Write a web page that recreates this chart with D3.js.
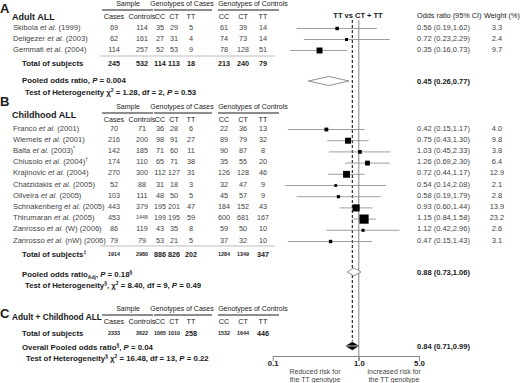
<!DOCTYPE html>
<html>
<head>
<meta charset="utf-8">
<script src="https://cdn.jsdelivr.net/npm/d3@7"></script>
<style>
  body { margin: 0; background: #fff; }
  svg { font-family: "Liberation Sans", Arial, sans-serif; }
</style>
</head>
<body>
<svg width="520" height="383"></svg>
<script>
// ---- data ----
var colKeys = ["Cases", "Controls", "CC", "CT", "TT", "CC", "CT", "TT"];

var namesA = ["Skibola et al. (1999)", "Deligezer et al. (2003)", "Gemmati et al. (2004)"];
var marksA = ["", "", ""];
var tableA = [
  [69, 114, 35, 29, 5, 61, 39, 14],
  [62, 161, 27, 31, 4, 74, 73, 14],
  [114, 257, 52, 53, 9, 78, 128, 51]
];
var totalA = [245, 532, 114, 113, 18, 213, 240, 79];
var orA = [0.56, 0.72, 0.35];
var loA = [0.19, 0.23, 0.16];
var hiA = [1.62, 2.29, 0.73];
var weightA = [3.3, 2.4, 9.7];
var pooledA = [0.45, 0.26, 0.77];

var namesB = ["Franco et al. (2001)", "Wiemels et al. (2001)", "Balta et al. (2003)",
  "Chiusolo et al. (2004)", "Krajinovic et al. (2004)", "Chatzidakis et al. (2005)",
  "Oliveira et al. (2005)", "Schnakenberg et al. (2005)", "Thirumaran et al. (2005)",
  "Zanrosso et al. (W) (2006)", "Zanrosso et al. (nW) (2006)"];
var marksB = ["", "", "*", "\u2020", "", "", "", "", "", "", ""];
var tableB = [
  [70, 71, 36, 28, 6, 22, 36, 13],
  [216, 200, 98, 91, 27, 89, 79, 32],
  [142, 185, 71, 60, 11, 90, 87, 8],
  [174, 110, 65, 71, 38, 35, 55, 20],
  [270, 300, 112, 127, 31, 126, 128, 46],
  [52, 88, 31, 18, 3, 32, 47, 9],
  [103, 111, 48, 50, 5, 45, 57, 9],
  [443, 379, 195, 201, 47, 184, 152, 43],
  [453, 1448, 199, 195, 59, 600, 681, 167],
  [86, 119, 43, 35, 8, 59, 50, 10],
  [79, 79, 53, 21, 5, 37, 32, 10]
];
var totalB = [1914, 2980, 886, 826, 202, 1284, 1349, 347];
var orB = [0.42, 0.75, 1.03, 1.26, 0.72, 0.54, 0.58, 0.93, 1.15, 1.12, 0.47];
var loB = [0.15, 0.43, 0.45, 0.69, 0.44, 0.14, 0.19, 0.60, 0.84, 0.42, 0.15];
var hiB = [1.17, 1.30, 2.33, 2.30, 1.17, 2.08, 1.79, 1.44, 1.58, 2.96, 1.43];
var weightB = [4.0, 9.8, 3.8, 6.4, 12.9, 2.1, 2.8, 13.9, 23.2, 2.6, 3.1];
var pooledB = [0.88, 0.73, 1.06];

var totalC = [2333, 3622, 1065, 1010, 258, 1532, 1644, 446];
var pooledC = [0.84, 0.71, 0.99];

var axisTicks = [0.1, 1.0, 5.0];

// ---- layout ----
var svg = d3.select("svg");
var colX = [114, 142, 160, 174, 191, 224, 243, 263];
var x = d3.scaleLog().domain([0.1, 5]).range([272.7, 419]);
var size = d3.scaleSqrt().domain([0, 23.2]).range([0, 9.2]);
var fmt = d3.format(".2f");
var ink = "#1a1a1a", grey = "#444";

// rich text: segments are [text, kind] with kind "", "i", "sup", "sub"
function rich(xp, yp, segs, opts) {
  opts = opts || {};
  var t = svg.append("text")
    .attr("x", xp).attr("y", yp).attr("dy", "0.35em")
    .attr("font-size", opts.size || 7.8)
    .attr("font-weight", opts.bold ? "bold" : null)
    .attr("text-anchor", opts.anchor || "start")
    .attr("fill", opts.fill || ink);
  var shift = 0;
  segs.forEach(function (s) {
    var sp = t.append("tspan").text(s[0]);
    var want = s[1] == "sup" ? -3 : s[1] == "sub" ? 2 : 0;
    if (want != shift) { sp.attr("dy", want - shift); shift = want; }
    if (s[1] == "i") sp.attr("font-style", "italic");
    if (s[1] == "sup" || s[1] == "sub") sp.attr("font-size", 5);
  });
  return t;
}

function studyName(name, mark) {
  var parts = name.split("et al.");
  var segs = [[parts[0], ""], ["et al.", "i"], [parts[1], ""]];
  if (mark) segs.push([mark, "sup"]);
  return segs;
}

function header(y0, panel, labelY, title, titleY, titleSize) {
  svg.append("text").attr("x", 0).attr("y", labelY)
    .attr("font-size", 13).attr("font-weight", "bold").attr("fill", ink).text(panel);
  svg.append("text").attr("x", 12).attr("y", titleY).attr("dy", "0.35em")
    .attr("font-size", titleSize).attr("font-weight", "bold").attr("fill", ink).text(title);
  var groups = [["Sample", 128, 102, 153], ["Genotypes of Cases", 182, 154, 212],
    ["Genotypes of Controls", 253, 218, 279]];
  groups.forEach(function (g) {
    svg.append("text").attr("x", g[1]).attr("y", y0).attr("dy", "0.35em")
      .attr("text-anchor", "middle").attr("font-size", 7).attr("fill", ink).text(g[0]);
    svg.append("line").attr("x1", g[2]).attr("x2", g[3])
      .attr("y1", y0 + 6).attr("y2", y0 + 6).attr("stroke", ink).attr("stroke-width", 1);
  });
  colKeys.forEach(function (k, i) {
    svg.append("text").attr("x", colX[i]).attr("y", y0 + 12).attr("dy", "0.35em")
      .attr("text-anchor", "middle").attr("font-size", 7.2).attr("fill", ink).text(k);
  });
}

function numbers(row, y, bold) {
  row.forEach(function (v, i) {
    var t = svg.append("text").attr("x", colX[i]).attr("y", y).attr("dy", "0.35em")
      .attr("text-anchor", "middle").attr("font-size", 7.3)
      .attr("font-weight", bold ? "bold" : null)
      .attr("fill", bold ? ink : grey).text(v);
    // wide numbers are set smaller, as in the source
    var w = t.node().getComputedTextLength();
    if (w > 12) t.attr("font-size", 7.3 * 12 / w);
  });
}

function studies(names, marks, table, or, lo, hi, w, y0, step) {
  names.forEach(function (n, i) {
    var y = y0 + i * step;
    rich(13, y, studyName(n, marks[i]), { fill: grey, size: 7.6 });
    numbers(table[i], y, false);
    svg.append("line").attr("x1", x(lo[i])).attr("x2", x(hi[i]))
      .attr("y1", y + 1.5).attr("y2", y + 1.5).attr("stroke", "#888").attr("stroke-width", 0.8);
    var s = size(w[i]);
    svg.append("rect").attr("x", x(or[i]) - s / 2).attr("y", y + 1.5 - s / 2)
      .attr("width", s).attr("height", s).attr("fill", "#000");
    svg.append("text").attr("x", 417).attr("y", y).attr("dy", "0.35em").attr("font-size", 7.5)
      .attr("fill", grey).text(fmt(or[i]) + " (" + fmt(lo[i]) + "," + fmt(hi[i]) + ")");
    svg.append("text").attr("x", 497).attr("y", y).attr("dy", "0.35em").attr("font-size", 7.5)
      .attr("text-anchor", "middle").attr("fill", grey).text(w[i].toFixed(1));
  });
}

function diamond(p, y, h, filled) {
  var pts = [[x(p[1]), y], [x(p[0]), y - h], [x(p[2]), y], [x(p[0]), y + h]];
  svg.append("path").attr("d", d3.line()(pts) + "Z")
    .attr("fill", filled ? "#000" : "#fff")
    .attr("stroke", filled ? "#000" : "#777").attr("stroke-width", 0.8);
  if (filled) {
    svg.append("line").attr("x1", x(p[1])).attr("x2", x(p[2])).attr("y1", y).attr("y2", y)
      .attr("stroke", "#fff").attr("stroke-width", 0.8);
  }
  svg.append("text").attr("x", 417).attr("y", y).attr("dy", "0.35em").attr("font-size", 7.5)
    .attr("font-weight", "bold").attr("fill", ink)
    .text(fmt(p[0]) + " (" + fmt(p[1]) + "," + fmt(p[2]) + ")");
}

// reference lines
svg.append("line").attr("x1", x(1)).attr("x2", x(1)).attr("y1", 20).attr("y2", 361)
  .attr("stroke", "#888").attr("stroke-width", 1);
svg.append("line").attr("x1", x(pooledC[0])).attr("x2", x(pooledC[0])).attr("y1", 20).attr("y2", 341)
  .attr("stroke", "#000").attr("stroke-width", 1).attr("stroke-dasharray", "3,2");

// column titles on the right
svg.append("text").attr("x", 358).attr("y", 15).attr("dy", "0.35em").attr("text-anchor", "middle")
  .attr("font-size", 7.5).attr("font-weight", "bold").attr("fill", ink).text("TT vs CT + TT");
svg.append("text").attr("x", 417).attr("y", 15).attr("dy", "0.35em")
  .attr("font-size", 7.3).attr("fill", ink).text("Odds ratio (95% CI)");
svg.append("text").attr("x", 484).attr("y", 15).attr("dy", "0.35em")
  .attr("font-size", 7.3).attr("fill", ink).text("Weight (%)");

// ---- panel A ----
header(4, "A", 13, "Adult ALL", 17, 9);
studies(namesA, marksA, tableA, orA, loA, hiA, weightA, 27, 11);
svg.append("line").attr("x1", 100).attr("x2", 275).attr("y1", 56).attr("y2", 56)
  .attr("stroke", "#bbb").attr("stroke-width", 1);
rich(22, 63, [["Total of subjects", ""]], { bold: true });
numbers(totalA, 63, true);
rich(22, 80, [["Pooled odds ratio,  ", ""], ["P", "i"], [" = 0.004", ""]], { bold: true });
diamond(pooledA, 81, 4.5, false);
rich(25, 92, [["Test of Heterogeneity \u03c7", ""], ["2", "sup"], [" = 1.28, df = 2, ", ""],
  ["P", "i"], [" = 0.53", ""]], { bold: true });

// ---- panel B ----
header(107, "B", 106, "Childhood ALL", 115, 9);
studies(namesB, marksB, tableB, orB, loB, hiB, weightB, 128, 11.2);
svg.append("line").attr("x1", 100).attr("x2", 275).attr("y1", 246).attr("y2", 246)
  .attr("stroke", "#bbb").attr("stroke-width", 1);
rich(22, 254, [["Total of subjects", ""], ["\u2021", "sup"]], { bold: true });
numbers(totalB, 254, true);
rich(22, 274, [["Pooled odds ratio", ""], ["Adj", "sub"], [", ", ""], ["P", "i"], [" = 0.18", ""],
  ["\u00a7", "sup"]], { bold: true });
diamond(pooledB, 272, 4, false);
rich(25, 285, [["Test of Heterogeneity", ""], ["\u00a7", "sup"], [", \u03c7", ""], ["2", "sup"],
  [" = 8.40, df = 9, ", ""], ["P", "i"], [" = 0.49", ""]], { bold: true });

// ---- panel C ----
header(309, "C", 318, "Adult + Childhood ALL", 317, 8.3);
rich(22, 333, [["Total of subjects", ""]], { bold: true });
numbers(totalC, 333, true);
rich(22, 347, [["Overall Pooled odds ratio", ""], ["\u00a7", "sup"], [", ", ""], ["P", "i"],
  [" = 0.04", ""]], { bold: true });
diamond(pooledC, 346, 3.8, true);
rich(26, 358, [["Test of Heterogeneity", ""], ["\u00a7", "sup"], [" \u03c7", ""], ["2", "sup"],
  [" = 16.48, df = 13, ", ""], ["P", "i"], [" = 0.22", ""]], { bold: true });

// ---- axis ----
var axis = svg.append("g").attr("transform", "translate(0,356)")
  .call(d3.axisBottom(x).tickValues(axisTicks).tickFormat(d3.format(".1f"))
    .tickSize(5).tickSizeOuter(0));
axis.select(".domain").attr("stroke", "#888");
axis.selectAll(".tick line").attr("stroke", "#888");
axis.selectAll(".tick text").attr("font-size", 7.8).attr("font-weight", "bold")
  .attr("fill", ink).attr("y", 4);

[["Reduced risk for", 315, 372], ["the TT genotype", 315, 380],
 ["Increased risk for", 394, 372], ["the TT genotype", 394, 380]].forEach(function (l) {
  svg.append("text").attr("x", l[1]).attr("y", l[2]).attr("dy", "0.35em")
    .attr("text-anchor", "middle").attr("font-size", 7).attr("fill", grey).text(l[0]);
});
</script>
</body>
</html>
